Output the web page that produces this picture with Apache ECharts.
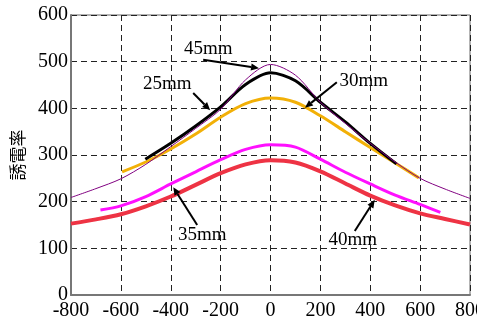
<!DOCTYPE html>
<html>
<head>
<meta charset="utf-8">
<script src="https://cdn.jsdelivr.net/npm/echarts@6/dist/echarts.min.js"></script>
<style>html,body{margin:0;padding:0;background:#fff}#c{width:477px;height:325px}</style>
</head>
<body>
<div id="c"></div>
<script>
// Data (x position, permittivity)
const s25mm = [[-502,291],[-400,325],[-300,362],[-200,403],[-100,451],[0,476],[100,459],[200,413],[300,371],[400,325],[505,281]];
const s30mm = [[-595,264],[-500,285],[-400,313],[-300,345],[-200,381],[-100,410],[0,422],[100,413],[200,384],[300,350],[400,316],[500,283],[595,251]];
const s35mm = [[-682,182],[-600,191],[-500,211],[-400,238],[-300,264],[-200,290],[-100,312],[0,322],[100,317],[200,291],[300,263],[400,238],[500,214],[600,194],[681,177]];
const s40mm = [[-800,153],[-700,162],[-600,173],[-500,190],[-400,211],[-300,236],[-200,261],[-100,280],[0,289],[100,284],[200,265],[300,239],[400,213],[500,192],[600,175],[700,163],[800,151]];
const s45mm = [[-800,209],[-700,228],[-600,249],[-500,280],[-400,318],[-300,357],[-200,398],[-100,461],[0,494],[100,471],[200,413],[300,368],[400,325],[500,285],[600,250],[700,227],[800,207]];
const xTicks = {min:-800, max:800, interval:200};
const yTicks = {min:0, max:600, interval:100};
const yName = '誘電率';
// annotations: label, label position, arrow start, arrow tip (data coords)
const notes = [
  ['45mm', [-250,527], [-270,504], [-46,486]],
  ['25mm', [-414,452], [-310,433], [-242,396]],
  ['30mm', [374,459], [266,456], [138,401]],
  ['35mm', [-274,129], [-294,150], [-390,231]],
  ['40mm', [330,118], [338,137], [418,204]]
];

const chart = echarts.init(document.getElementById('c'), null, {renderer:'canvas'});
const serif = 'Liberation Serif';
function line(name, data, color, width, z) {
  return {name, type:'line', data, smooth:0.3, symbol:'none', z,
    lineStyle:{color, width}, itemStyle:{color}};
}
chart.setOption({
  animation:false,
  grid:{left:71, right:7, top:15, bottom:30, outerBoundsMode:'none', containLabel:false,
    show:true, borderColor:'#666', borderWidth:1},
  xAxis:{type:'value', min:xTicks.min, max:xTicks.max, interval:xTicks.interval,
    axisLine:{show:true, onZero:false, lineStyle:{color:'#777', width:2}},
    axisTick:{show:false},
    axisLabel:{color:'#000', fontFamily:serif, fontSize:20, margin:6, showMaxLabel:true},
    splitLine:{show:true, lineStyle:{color:'#222', type:[6,4], width:1}}},
  yAxis:{type:'value', min:yTicks.min, max:yTicks.max, interval:yTicks.interval,
    name:yName, nameLocation:'middle', nameRotate:90, nameGap:45,
    nameTextStyle:{color:'#000', fontFamily:'Noto Sans CJK JP', fontSize:17},
    axisLine:{show:true, onZero:false, lineStyle:{color:'#777', width:2}},
    axisTick:{show:false},
    axisLabel:{color:'#000', fontFamily:serif, fontSize:20, margin:3},
    splitLine:{show:true, lineStyle:{color:'#222', type:[6,4], width:1}}},
  series:[
    line('40mm', s40mm, '#ee3344', 4, 2),
    line('35mm', s35mm, '#ff10ff', 3, 3),
    line('30mm', s30mm, '#f2b007', 3, 4),
    line('25mm', s25mm, '#000000', 3, 5),
    line('45mm', s45mm, '#800080', 1, 6)
  ]
});

const g = [];
notes.forEach(([txt, tp, a, b]) => {
  const p = chart.convertToPixel({gridIndex:0}, tp);
  const pa = chart.convertToPixel({gridIndex:0}, a);
  const pb = chart.convertToPixel({gridIndex:0}, b);
  g.push({type:'text', z:100, style:{text:txt, x:p[0], y:p[1], align:'center', verticalAlign:'middle',
    font:'19px "Liberation Serif"', fill:'#000'}});
  const dx = pb[0]-pa[0], dy = pb[1]-pa[1], L = Math.hypot(dx,dy), ux = dx/L, uy = dy/L;
  const hl = 8, hw = 3.5;
  const bx = pb[0]-ux*hl, by = pb[1]-uy*hl;
  g.push({type:'line', z:100, shape:{x1:pa[0], y1:pa[1], x2:bx, y2:by}, style:{stroke:'#000', lineWidth:2}});
  g.push({type:'polygon', z:100, shape:{points:[[pb[0],pb[1]],[bx-uy*hw, by+ux*hw],[bx+uy*hw, by-ux*hw]]}, style:{fill:'#000'}});
});
chart.setOption({graphic:g});
</script>
</body>
</html>
